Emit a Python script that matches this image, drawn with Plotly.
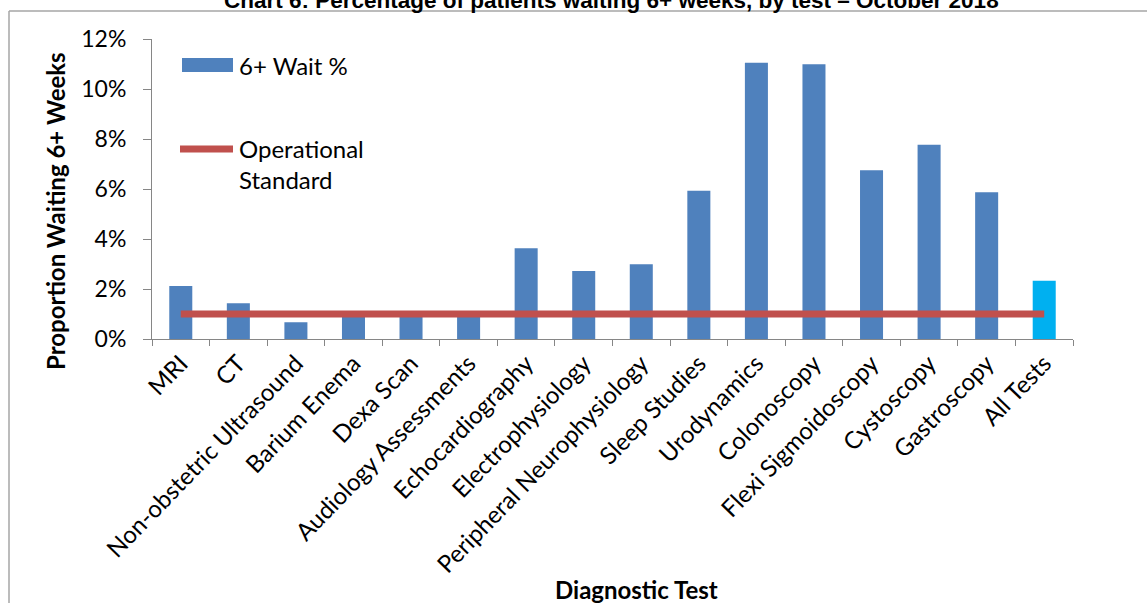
import plotly.graph_objects as go

# Diagnostic tests and share of patients waiting 6+ weeks (%)
tests = [
    "MRI", "CT", "Non-obstetric Ultrasound", "Barium Enema", "Dexa Scan",
    "Audiology Assessments", "Echocardiography", "Electrophysiology",
    "Peripheral Neurophysiology", "Sleep Studies", "Urodynamics",
    "Colonoscopy", "Flexi Sigmoidoscopy", "Cystoscopy", "Gastroscopy",
    "All Tests",
]
wait_pct = [2.12, 1.43, 0.67, 1.0, 1.0, 0.95, 3.63, 2.72, 2.99, 5.93,
            11.05, 10.99, 6.75, 7.77, 5.87, 2.33]
standard_pct = [1.0] * len(tests)
y_ticks = [0, 2, 4, 6, 8, 10, 12]
y_tick_labels = ["0%", "2%", "4%", "6%", "8%", "10%", "12%"]

W, H = 1147, 603
L, R, T, B = 152, 1073, 39, 339          # plot area in pixels

def px(x):
    return (x - L) / (R - L)

def py(y):
    return (B - y) / (B - T)

BLUE = "#4F81BD"
CYAN = "#00B0F0"
RED = "#C0504D"
AXIS = "#868686"
FONT = "Lato, Carlito, sans-serif"

bar_colors = [BLUE] * (len(tests) - 1) + [CYAN]

fig = go.Figure()
fig.add_trace(go.Bar(
    x=tests, y=wait_pct, name="6+ Wait %",
    marker=dict(color=bar_colors, line=dict(width=0)),
    showlegend=False,
))
fig.add_trace(go.Scatter(
    x=tests, y=standard_pct, name="Operational Standard",
    mode="lines", line=dict(color=RED, width=7),
    showlegend=False,
))

shapes = [
    # outer frame (left and top edges)
    dict(type="line", xref="paper", yref="paper",
         x0=px(9), x1=px(9), y0=py(11), y1=py(H + 5),
         line=dict(color="#A6A6A6", width=1.5)),
    dict(type="line", xref="paper", yref="paper",
         x0=px(9), x1=px(W + 5), y0=py(11), y1=py(11),
         line=dict(color="#A6A6A6", width=1.5)),
    # legend swatches
    dict(type="rect", xref="paper", yref="paper",
         x0=px(182), x1=px(233), y0=py(58), y1=py(72),
         fillcolor=BLUE, line=dict(width=0)),
    dict(type="line", xref="paper", yref="paper",
         x0=px(180), x1=px(233), y0=py(149), y1=py(149),
         line=dict(color=RED, width=7)),
]

annotations = [
    dict(text="<b>Chart 6: Percentage of patients waiting 6+ weeks, by test \u2013 October 2018</b>",
         xref="paper", yref="paper", x=px(611), y=py(14),
         xanchor="center", yanchor="bottom", showarrow=False,
         font=dict(family="Liberation Sans", size=22.5, color="#000000"),
         borderpad=0),
    dict(text="6+ Wait %", xref="paper", yref="paper",
         x=px(237), y=py(65), xanchor="left", yanchor="middle",
         showarrow=False, font=dict(family=FONT, size=24, color="#000000")),
    dict(text="Operational<br>Standard", xref="paper", yref="paper",
         x=px(237), y=py(132), xanchor="left", yanchor="top", align="left",
         showarrow=False, font=dict(family=FONT, size=24, color="#000000")),
    dict(text="<b>Proportion Waiting 6+ Weeks</b>", xref="paper", yref="paper",
         x=px(56), y=py(211), xanchor="center", yanchor="middle",
         textangle=-90, showarrow=False,
         font=dict(family=FONT, size=24, color="#000000")),
    dict(text="<b>Diagnostic Test</b>", xref="paper", yref="paper",
         x=px(636), y=py(589), xanchor="center", yanchor="middle",
         showarrow=False, font=dict(family=FONT, size=24, color="#000000")),
]

fig.update_layout(
    width=W, height=H,
    margin=dict(l=L, r=W - R, t=T, b=H - B),
    paper_bgcolor="white", plot_bgcolor="white",
    bargap=0.6,
    shapes=shapes, annotations=annotations,
    font=dict(family=FONT, size=23, color="#000000"),
)
fig.update_xaxes(
    type="category", range=[-0.5, len(tests) - 0.5],
    tickangle=-46, tickson="boundaries",
    ticks="outside", ticklen=6, tickcolor=AXIS,
    showline=True, linecolor=AXIS, linewidth=1,
    showgrid=False, zeroline=False,
    tickfont=dict(family=FONT, size=24, color="#000000"),
)
fig.update_yaxes(
    range=[0, 12], tickvals=y_ticks, ticktext=y_tick_labels,
    ticks="outside", ticklen=8, tickcolor=AXIS,
    showline=True, linecolor=AXIS, linewidth=1,
    showgrid=False, zeroline=False, ticklabelstandoff=12,
    tickfont=dict(family=FONT, size=23, color="#000000"),
)

fig.write_html("out.html")
